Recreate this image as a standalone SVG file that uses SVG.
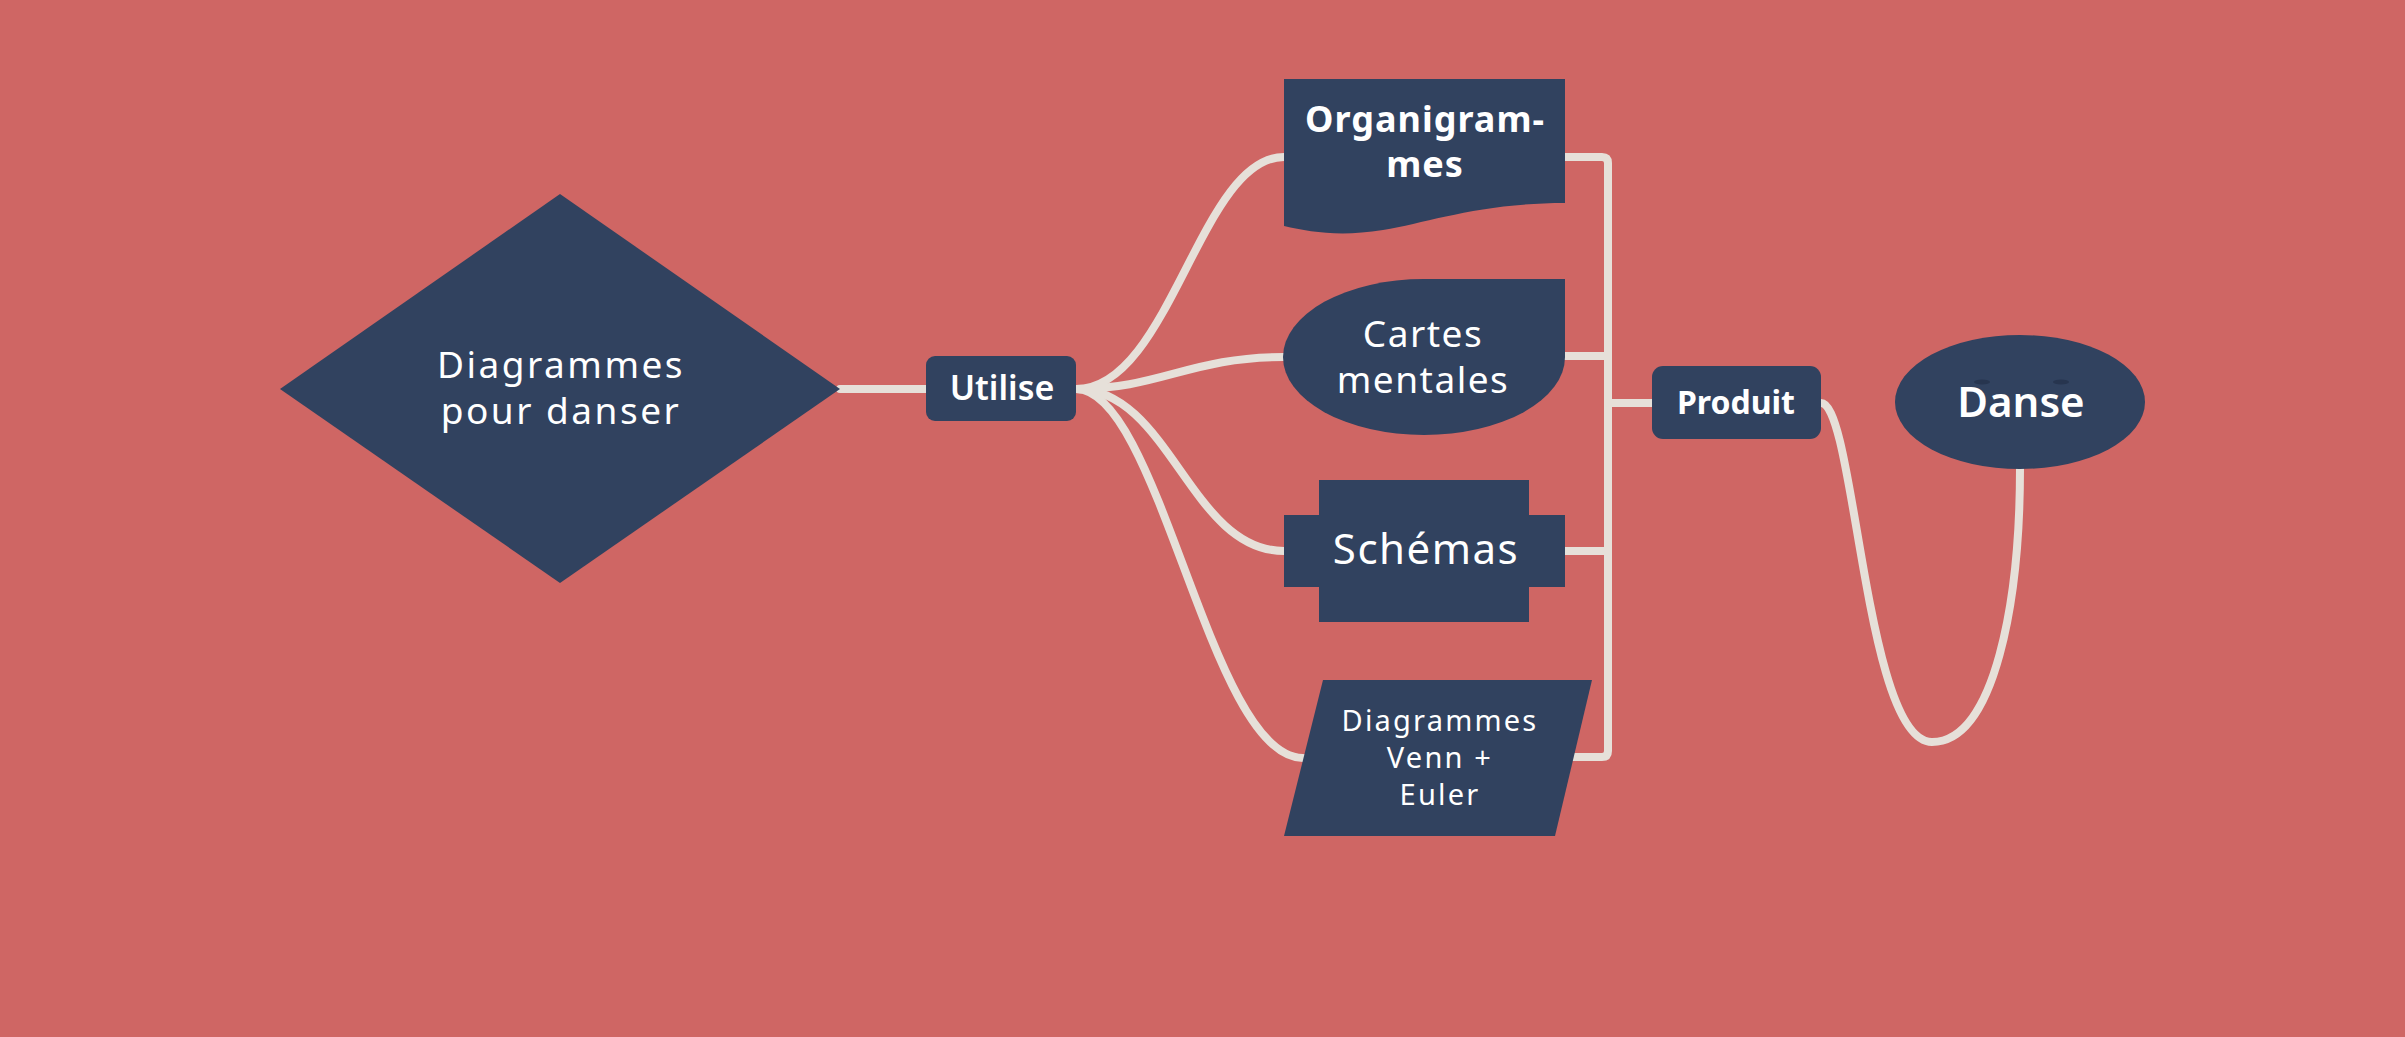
<svg xmlns="http://www.w3.org/2000/svg" width="2405" height="1037" viewBox="0 0 2405 1037">
<style>
.node{fill:#31425f;}
.conn{fill:none;stroke:#e6e0d9;stroke-width:8;stroke-linecap:round;stroke-linejoin:round;}
text{font-family:"Noto Sans","DejaVu Sans",sans-serif;fill:#ffffff;text-anchor:middle;}
.b{font-weight:700;}
</style>
<rect width="2405" height="1037" fill="#cf6664"/>
<g id="connectors">
<path class="conn" d="M840,389 H926"/>
<path class="conn" d="M1076,389 C1170,389 1200,157 1284,157"/>
<path class="conn" d="M1076,389 C1160,389 1190,357 1284,357"/>
<path class="conn" d="M1076,389 C1170,389 1190,551 1284,551"/>
<path class="conn" d="M1076,389 C1160,389 1210,758 1303,758"/>
<path class="conn" d="M1565,157 H1602 Q1608,157 1608,163 V751 Q1608,757 1602,757 H1573"/>
<path class="conn" d="M1565,356 H1608"/>
<path class="conn" d="M1565,551 H1608"/>
<path class="conn" d="M1608,403 H1652"/>
<path class="conn" d="M1821,403 C1855,403 1865,742 1932,742 C1995,742 2020,600 2020,468"/>
</g>
<g id="node-diagrammes">
<polygon class="node" points="560,194 840,389 560,583 280,389"/>
<text font-size="37" letter-spacing="2.5"><tspan x="561" y="378">Diagrammes</tspan><tspan x="561" y="424">pour danser</tspan></text>
</g>
<g id="node-utilise">
<rect class="node" x="926" y="356" width="150" height="65" rx="9"/>
<text font-size="34" font-weight="600" x="1002" y="400">Utilise</text>
</g>
<g id="node-organigrammes">
<path class="node" d="M1284,79 H1565 V203 C1480,203 1430,222 1383,230 C1340,237 1310,232 1284,226 Z"/>
<text class="b" font-size="36" letter-spacing="1"><tspan x="1425" y="132">Organigram-</tspan><tspan x="1425" y="177">mes</tspan></text>
</g>
<g id="node-cartes">
<path class="node" d="M1424,279 H1565 V357 A141,78 0 0 1 1424,435 A141,78 0 0 1 1283,357 A141,78 0 0 1 1424,279 Z"/>
<text font-size="37" letter-spacing="1.5"><tspan x="1423" y="347">Cartes</tspan><tspan x="1423" y="393">mentales</tspan></text>
</g>
<g id="node-schemas">
<path class="node" d="M1319,480 H1529 V515 H1565 V587 H1529 V622 H1319 V587 H1284 V515 H1319 Z"/>
<text font-size="42" letter-spacing="1.5" x="1426" y="564">Schémas</text>
</g>
<g id="node-venn">
<polygon class="node" points="1323,680 1592,680 1555,836 1284,836"/>
<text font-size="29" letter-spacing="2.2"><tspan x="1440" y="731">Diagrammes</tspan><tspan x="1440" y="768">Venn +</tspan><tspan x="1440" y="805">Euler</tspan></text>
</g>
<g id="node-produit">
<rect class="node" x="1652" y="366" width="169" height="73" rx="11"/>
<text class="b" font-size="32" x="1736" y="414">Produit</text>
</g>
<g id="node-danse">
<ellipse class="node" cx="2020" cy="402" rx="125" ry="67"/>
<ellipse cx="1982" cy="382" rx="8" ry="2.5" fill="#27354f"/>
<ellipse cx="2061" cy="382" rx="8" ry="2.5" fill="#27354f"/>
<text font-size="42" font-weight="600" x="2021" y="417">Danse</text>
</g>
</svg>
